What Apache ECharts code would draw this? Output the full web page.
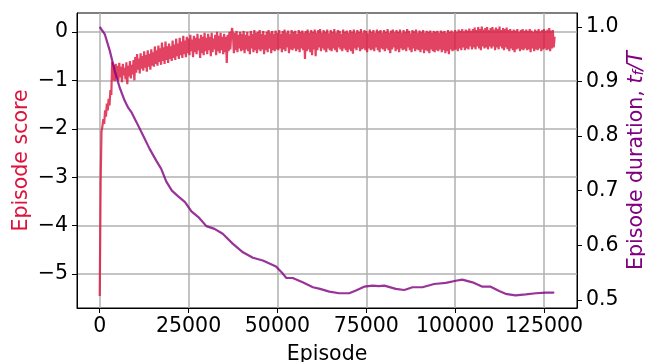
<!DOCTYPE html>
<html>
<head>
<meta charset="utf-8">
<script src="https://cdn.jsdelivr.net/npm/echarts@6/dist/echarts.min.js"></script>
<style>
  html, body { margin: 0; padding: 0; background: #fff; }
  #chart { width: 645px; height: 362px; }
</style>
</head>
<body>
<div id="chart"></div>
<script>
// Episode score, sampled every 250 episodes (episode = index * 250)
const scoreStep = 250;
const scoreValues = [
  -5.45, -3.10, -2.05, -1.95, -1.80, -1.90, -1.62, -1.75, -1.48, -1.62, -1.38, -1.52, -1.20, -1.30, -0.62, -1.00, -0.68, -1.02, -0.66, -0.96,
  -0.70, -1.00, -0.64, -0.94, -0.72, -1.04, -0.66, -0.90, -0.74, -0.98, -0.63, -1.08, -0.70, -0.92, -0.60, -0.96, -0.68, -0.88, -0.58, -1.00,
  -0.52, -0.84, -0.46, -0.78, -0.55, -0.86, -0.44, -0.76, -0.50, -0.80, -0.40, -0.74, -0.48, -0.82, -0.38, -0.72, -0.45, -0.78, -0.36, -0.70,
  -0.42, -0.72, -0.30, -0.66, -0.38, -0.70, -0.28, -0.62, -0.34, -0.68, -0.22, -0.60, -0.32, -0.66, -0.20, -0.58, -0.30, -0.64, -0.24, -0.56,
  -0.30, -0.60, -0.18, -0.54, -0.26, -0.58, -0.14, -0.50, -0.24, -0.56, -0.12, -0.48, -0.20, -0.54, -0.08, -0.46, -0.18, -0.52, -0.10, -0.44,
  -0.14, -0.48, -0.06, -0.40, -0.16, -0.52, -0.08, -0.42, -0.12, -0.46, -0.04, -0.38, -0.14, -0.54, -0.06, -0.44, -0.10, -0.48, -0.02, -0.40,
  -0.12, -0.46, -0.04, -0.38, -0.10, -0.50, -0.02, -0.42, -0.14, -0.36, -0.06, -0.48, 0.00, -0.40, -0.08, -0.44, -0.02, -0.38, -0.10, -0.46,
  -0.04, -0.42, -0.10, -0.64, -0.06, -0.40, 0.00, -0.36, -0.04, 0.08, -0.08, -0.44, -0.02, -0.38, 0.02, -0.42, -0.06, -0.34, 0.00, -0.40,
  -0.04, -0.38, 0.02, -0.44, -0.06, -0.36, 0.00, -0.40, -0.08, -0.46, 0.02, -0.34, -0.04, -0.42, 0.04, -0.38, -0.02, -0.44, 0.00, -0.36,
  0.04, -0.40, -0.04, -0.36, 0.02, -0.46, -0.06, -0.38, 0.00, -0.42, 0.04, -0.34, -0.02, -0.44, 0.02, -0.38, -0.04, -0.40, 0.03, -0.36,
  -0.02, -0.38, 0.04, -0.34, -0.04, -0.42, 0.02, -0.36, 0.05, -0.40, -0.02, -0.32, 0.03, -0.44, -0.04, -0.36, 0.04, -0.38, 0.00, -0.34,
  0.02, -0.40, -0.04, -0.36, 0.04, -0.42, 0.00, -0.34, 0.03, -0.38, -0.02, -0.56, 0.02, -0.40, 0.05, -0.36, -0.02, -0.42, 0.04, -0.48,
  0.00, -0.36, 0.05, -0.50, -0.02, -0.38, 0.04, -0.32, 0.06, -0.40, -0.02, -0.34, 0.04, -0.38, 0.00, -0.42, 0.05, -0.34, -0.03, -0.38,
  0.04, -0.40, 0.00, -0.34, 0.06, -0.38, -0.02, -0.42, 0.04, -0.32, 0.02, -0.36, -0.04, -0.40, 0.05, -0.34, 0.00, -0.38, 0.03, -0.42,
  -0.02, -0.36, 0.04, -0.40, 0.00, -0.45, 0.05, -0.34, -0.02, -0.38, 0.04, -0.32, 0.00, -0.40, 0.06, -0.36, -0.02, -0.34, 0.04, -0.38,
  0.02, -0.42, -0.03, -0.34, 0.05, -0.38, 0.00, -0.36, 0.04, -0.40, -0.02, -0.32, 0.05, -0.38, 0.01, -0.42, 0.04, -0.34, -0.02, -0.36,
  0.04, -0.40, 0.00, -0.34, 0.06, -0.38, -0.02, -0.44, 0.03, -0.36, 0.05, -0.32, -0.01, -0.40, 0.04, -0.36, 0.00, -0.42, 0.05, -0.34,
  -0.02, -0.38, 0.04, -0.36, 0.00, -0.40, 0.06, -0.32, 0.02, -0.38, -0.03, -0.42, 0.04, -0.34, 0.01, -0.40, 0.05, -0.36, -0.02, -0.38,
  0.03, -0.42, 0.00, -0.36, 0.04, -0.44, -0.02, -0.38, 0.02, -0.40, 0.00, -0.44, 0.03, -0.36, -0.02, -0.40, 0.02, -0.42, 0.00, -0.38,
  0.02, -0.40, -0.02, -0.36, 0.03, -0.42, 0.00, -0.38, 0.02, -0.44, -0.02, -0.40, 0.04, -0.46, 0.00, -0.36, 0.03, -0.40, -0.01, -0.38,
  0.04, -0.36, 0.00, -0.40, 0.05, -0.34, 0.02, -0.38, 0.06, -0.32, 0.01, -0.38, 0.05, -0.34, 0.03, -0.36, 0.07, -0.30, 0.02, -0.36,
  0.06, -0.32, 0.09, -0.36, 0.04, -0.30, 0.10, -0.34, 0.06, -0.38, 0.11, -0.30, 0.05, -0.34, 0.08, -0.32, 0.10, -0.36, 0.04, -0.30,
  0.08, -0.34, 0.10, -0.30, 0.05, -0.38, 0.09, -0.32, 0.06, -0.36, 0.11, -0.30, 0.04, -0.34, 0.08, -0.38, 0.06, -0.32, 0.09, -0.36,
  0.04, -0.40, 0.06, -0.34, 0.02, -0.38, 0.05, -0.42, 0.03, -0.36, 0.06, -0.34, 0.00, -0.40, 0.04, -0.36, 0.06, -0.38, 0.02, -0.34,
  0.05, -0.38, 0.02, -0.36, 0.06, -0.42, 0.03, -0.34, 0.00, -0.40, 0.05, -0.36, 0.02, -0.38, 0.06, -0.34, 0.01, -0.40, 0.04, -0.36,
  0.06, -0.34, 0.02, -0.38, 0.05, -0.36, 0.08, -0.40, 0.03, -0.34, 0.04, -0.32, -0.10
];

// Episode duration t_f / T
const durationEpisodes = [
  0, 1400, 2800, 4200, 5600, 7000, 8000, 8900, 10300, 12200,
  14000, 15900, 17300, 18700, 20300, 22000, 24000, 25800, 28000, 30000,
  32300, 34600, 37400, 40300, 43100, 45900, 49600, 51500, 52500, 54300,
  57100, 60000, 62000, 64600, 67400, 70200, 72100, 74400, 76800, 78500,
  80100, 83300, 85700, 88000, 90800, 94100, 97400, 100200, 102000, 104900,
  107700, 110000, 112400, 114200, 117000, 119900, 122700, 125500, 127900
];
const durationValues = [
  1.000, 0.987, 0.957, 0.920, 0.889, 0.865, 0.852, 0.844, 0.826, 0.801,
  0.777, 0.755, 0.740, 0.717, 0.700, 0.690, 0.679, 0.662, 0.650, 0.635,
  0.630, 0.621, 0.603, 0.587, 0.577, 0.572, 0.561, 0.548, 0.540, 0.540,
  0.532, 0.523, 0.520, 0.515, 0.512, 0.512, 0.517, 0.524, 0.526, 0.525,
  0.526, 0.520, 0.518, 0.523, 0.523, 0.529, 0.531, 0.535, 0.537, 0.532,
  0.524, 0.524, 0.516, 0.511, 0.508, 0.510, 0.512, 0.513, 0.513
];

// Tick positions
const episodeTicks = [0, 25000, 50000, 75000, 100000, 125000];
const scoreTicks = [-5, -4, -3, -2, -1, 0];
const durationTicks = [0.5, 0.6, 0.7, 0.8, 0.9, 1.0];

const FONT = '"DejaVu Sans", sans-serif';
const FS = 20.5;
const SCORE_COLOR = '#dc143c';
const DURATION_COLOR = '#800080';

const scoreData = scoreValues.map((v, i) => [i * scoreStep, v]);
const durationData = durationEpisodes.map((e, i) => [e, durationValues[i]]);

const minusFmt = v => (v < 0 ? '\u2212' + Math.abs(v) : String(v));

const chart = echarts.init(document.getElementById('chart'), null, { renderer: 'canvas' });
chart.setOption({
  animation: false,
  backgroundColor: '#fff',
  grid: {
    left: 77, right: 68, top: 13, bottom: 54,
    outerBoundsMode: 'none',
    containLabel: false,
    show: true, borderColor: '#000', borderWidth: 1, backgroundColor: '#fff'
  },
  xAxis: {
    type: 'value',
    min: -6400, max: 134300,
    name: 'Episode',
    nameLocation: 'middle',
    nameGap: 36,
    nameMoveOverlap: false,
    nameTextStyle: { color: '#000', fontSize: FS, fontFamily: FONT },
    axisLine: { show: true, onZero: false, lineStyle: { color: '#000', width: 1 } },
    axisTick: { show: true, length: 5, customValues: episodeTicks, lineStyle: { color: '#000', width: 1 } },
    axisLabel: {
      customValues: episodeTicks, margin: 8, color: '#000', fontSize: FS, fontFamily: FONT,
      formatter: v => String(v)
    },
    splitLine: { show: true, lineStyle: { color: '#b0b0b0', width: 1.5 } }
  },
  yAxis: [
    {
      type: 'value',
      position: 'left',
      min: -5.70, max: 0.39,
      name: 'Episode score',
      nameLocation: 'middle',
      nameRotate: 90,
      nameGap: 45,
      nameMoveOverlap: false,
      nameTextStyle: { color: SCORE_COLOR, fontSize: FS, fontFamily: FONT },
      axisLine: { show: true, onZero: false, lineStyle: { color: '#000', width: 1 } },
      axisTick: { show: true, length: 5, customValues: scoreTicks, lineStyle: { color: '#000', width: 1 } },
      axisLabel: {
        customValues: scoreTicks, margin: 9, color: '#000', fontSize: FS, fontFamily: FONT,
        formatter: minusFmt
      },
      splitLine: { show: true, lineStyle: { color: '#b0b0b0', width: 1.5 } }
    },
    {
      type: 'value',
      position: 'right',
      min: 0.485, max: 1.0255,
      name: 'Episode duration, {i|t}{s|f}{i|/T}',
      nameLocation: 'middle',
      nameRotate: 90,
      nameGap: 49,
      nameMoveOverlap: false,
      nameTextStyle: {
        color: DURATION_COLOR, fontSize: FS, fontFamily: FONT,
        rich: {
          i: { color: DURATION_COLOR, fontSize: FS, fontFamily: FONT, fontStyle: 'italic' },
          s: { color: DURATION_COLOR, fontSize: 14.5, fontFamily: FONT, fontStyle: 'italic', verticalAlign: 'bottom' }
        }
      },
      axisLine: { show: true, onZero: false, lineStyle: { color: '#000', width: 1 } },
      axisTick: { show: true, length: 5, customValues: durationTicks, lineStyle: { color: '#000', width: 1 } },
      axisLabel: {
        customValues: durationTicks, margin: 9, color: '#000', fontSize: FS, fontFamily: FONT,
        formatter: v => v.toFixed(1)
      },
      splitLine: { show: false }
    }
  ],
  series: [
    {
      name: 'Episode score',
      type: 'line',
      yAxisIndex: 0,
      data: scoreData,
      showSymbol: false,
      sampling: null,
      lineStyle: { color: 'rgba(220,20,60,0.8)', width: 2.2 },
      z: 2
    },
    {
      name: 'Episode duration',
      type: 'line',
      yAxisIndex: 1,
      data: durationData,
      showSymbol: false,
      lineStyle: { color: 'rgba(128,0,128,0.8)', width: 2.2 },
      z: 3
    }
  ]
});
</script>
</body>
</html>
